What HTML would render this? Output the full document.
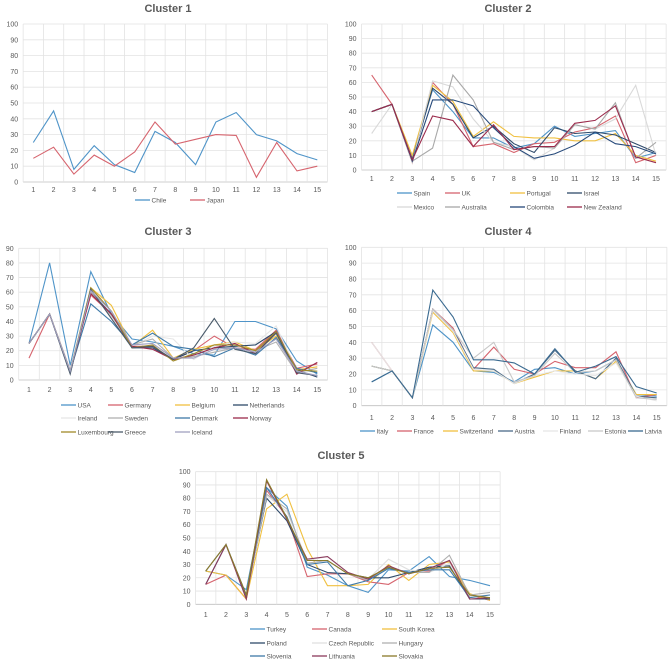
<!DOCTYPE html>
<html><head><meta charset="utf-8"><style>
html,body{margin:0;padding:0;background:#fff;}
svg{display:block;font-family:"Liberation Sans",sans-serif;}
</style></head><body>
<svg id="chart" width="669" height="659" viewBox="0 0 669 659" xmlns="http://www.w3.org/2000/svg"></svg>
<script>
const categories = [1,2,3,4,5,6,7,8,9,10,11,12,13,14,15];
// Cluster 1
const c1Names = ["Chile","Japan"];
const c1Chile = [25,45,8,23,11,6,32,25,11,38,44,30,26,18,14];
const c1Japan = [15,22,5,17,10,19,38,24,27,30,29.5,3,25,7,10];
// Cluster 2
const c2Names = ["Spain","UK","Portugal","Israel","Mexico","Australia","Colombia","New Zealand"];
const c2Spain = [40,45,8,55,40,22,22,15,18,30,23,25,27,8,12];
const c2UK = [65,45,5,60,45,16,18,12,18,19,26,29,37,5,10];
const c2Portugal = [40,45,10,58,47,23,33,23,22,22,20,20,25,10,6];
const c2Israel = [40,45,7,56,45,22,30,18,12,29,25,26,24,18,12];
const c2Mexico = [25,45,5,61,57,35,19,16,7,15,31,28,35,58,10];
const c2Australia = [40,45,6,15,65,48,19,14,16,15,31,28,46,8,19];
const c2Colombia = [40,45,6,48,48,44,29,16,8,11,17,26,18,16,11];
const c2NewZealand = [40,45,7,37,34,16,31,14,16,16,32,34,44,9,5];
// Cluster 3
const c3Names = ["USA","Germany","Belgium","Netherlands","Ireland","Sweden","Denmark","Norway","Luxembourg","Greece","Iceland"];
const c3USA = [25,80,10,74,45,28,26,23,18,17,40,40,35,13,4];
const c3Germany = [15,45,7,58,45,23,23,14,20,30,22,21,34,8,11];
const c3Belgium = [25,45,6,63,51,23,34,15,21,24,26,20,30,7,9];
const c3Netherlands = [25,45,5,60,45,22,22,14,20,22,23,24,33,7,2];
const c3Ireland = [25,45,7,62,47,23,30,28,14,23,26,25,37,6,3];
const c3Sweden = [25,45,6,60,44,24,28,15,16,19,22,20,26,5,8];
const c3Denmark = [25,45,6,52,40,24,32,23,21,16,22,17,29,8,5];
const c3Norway = [25,45,5,59,45,23,21,14,17,22,25,18,33,4,12];
const c3Luxembourg = [25,45,6,63,47,22,24,13,18,24,24,20,33,7,6];
const c3Greece = [25,45,4,62,42,22,23,14,22,42,21,18,32,5,3];
const c3Iceland = [25,45,6,61,47,24,25,15,15,21,22,19,28,6,3];
// Cluster 4
const c4Names = ["Italy","France","Switzerland","Austria","Finland","Estonia","Latvia"];
const c4Italy = [15,22,5,51,40,22,21,15,23,24,20,22,29,7,6];
const c4France = [40,22,5,61,49,23,37,23,20,28,24,24,34,5,7];
const c4Switzerland = [25,22,5,59,46,22,22,14,18,22,22,17,28,7,7];
const c4Austria = [25,22,5,61,48,24,23,14,20,35,22,17,30,6,5];
const c4Finland = [40,22,5,60,47,23,22,14,19,22,20,19,27,6,3];
const c4Estonia = [25,22,5,61,48,30,40,15,19,33,21,22,29,5,4];
const c4Latvia = [15,22,5,73,56,29,29,27,20,36,21,25,31,12,8];
// Cluster 5
const c5Names = ["Turkey","Canada","South Korea","Poland","Czech Republic","Hungary","Slovenia","Lithuania","Slovakia"];
const c5Turkey = [25,22,11,88,74,28,22,14,9,26,25,36,21,18,14];
const c5Canada = [15,22,4,86,66,21,23,23,17,15,24,25,33,7,3];
const c5SouthKorea = [25,22,4,72,83,42,14,14,15,30,18,30,32,8,3];
const c5Poland = [25,45,7,80,63,30,24,23,20,20,24,28,29,4,4];
const c5Czech = [15,45,6,82,70,33,36,24,19,34,26,24,31,6,7];
const c5Hungary = [25,45,6,83,72,31,33,23,18,28,24,24,37,7,9];
const c5Slovenia = [15,45,6,88,66,30,32,14,18,27,24,26,26,5,7];
const c5Lithuania = [15,45,4,93,64,34,36,24,19,29,23,27,33,4,5];
const c5Slovakia = [25,45,7,94,65,33,33,23,20,28,23,27,28,7,5];

const NS="http://www.w3.org/2000/svg";
const svg=document.getElementById('chart');
function mk(tag,attrs,parent,text){const e=document.createElementNS(NS,tag);for(const k in attrs)e.setAttribute(k,attrs[k]);if(text!==undefined)e.textContent=text;(parent||svg).appendChild(e);return e;}

const panels=[
 {key:'cluster-1',title:'Cluster 1',tx:168,ty:12,x1:33.3,x15:317.3,yTop:24,yBot:182,yMax:100,xl:192,
  names:c1Names,series:[c1Chile,c1Japan],colors:['#4f94c8','#d6646e'],
  leg:{cols:[135,190],rows:[200],len:15}},
 {key:'cluster-2',title:'Cluster 2',tx:508,ty:12,x1:371.7,x15:656,yTop:24,yBot:170,yMax:100,xl:181,
  names:c2Names,series:[c2Spain,c2UK,c2Portugal,c2Israel,c2Mexico,c2Australia,c2Colombia,c2NewZealand],
  colors:['#4f94c8','#d6646e','#f0c040','#2f4a6a','#d9d9d9','#a8a8a8','#26497a','#9b2b4c'],
  leg:{cols:[397,445,510,567],rows:[193,207],len:15}},
 {key:'cluster-3',title:'Cluster 3',tx:168,ty:235,x1:29,x15:317.3,yTop:248.3,yBot:380,yMax:90,xl:392,
  names:c3Names,series:[c3USA,c3Germany,c3Belgium,c3Netherlands,c3Ireland,c3Sweden,c3Denmark,c3Norway,c3Luxembourg,c3Greece,c3Iceland],
  colors:['#4f94c8','#d6646e','#f0c040','#2f4a6a','#e6e6e6','#b0b0b0','#3f7aa8','#9b2b4c','#a08a2a','#4a5a6a','#a0a0c0'],
  leg:{cols:[61,108,175,233],rows:[405,418,432],len:15}},
 {key:'cluster-4',title:'Cluster 4',tx:508,ty:235,x1:371.7,x15:656.7,yTop:247.3,yBot:405.7,yMax:100,xl:420,
  names:c4Names,series:[c4Italy,c4France,c4Switzerland,c4Austria,c4Finland,c4Estonia,c4Latvia],
  colors:['#4f94c8','#d6646e','#f0c040','#4a6a88','#e6e6e6','#c8c8c8','#3a6a90'],
  leg:{cols:[360,397,443,498,543,588,628],rows:[431],len:15}},
 {key:'cluster-5',title:'Cluster 5',tx:341,ty:459,x1:205.7,x15:490,yTop:471.7,yBot:604.3,yMax:100,xl:617,
  names:c5Names,series:[c5Turkey,c5Canada,c5SouthKorea,c5Poland,c5Czech,c5Hungary,c5Slovenia,c5Lithuania,c5Slovakia],
  colors:['#4f94c8','#d6646e','#f0c040','#2f4a6a','#e0e0e0','#b0b0b0','#3f7aa8','#8b3a5c','#8a7a2a'],
  leg:{cols:[250,312,382],rows:[629,643,656],len:15}}
];

panels.forEach(p=>{
  const g=mk('g',{});
  
  
  const step=(p.x15-p.x1)/14;
  const xs=i=>p.x1+i*step;
  const ys=v=>p.yBot-(v/p.yMax)*(p.yBot-p.yTop);
  const left=p.x1-step/2,right=p.x15+step/2;
  const t=mk('text',{x:p.tx,y:p.ty,'text-anchor':'middle','font-size':'11','font-weight':'bold',fill:'#595959'},g,p.title);
  
  
  for(let v=0;v<=p.yMax;v+=10){
    const y=ys(v);
    const l=mk('line',{x1:left,x2:right,y1:y,y2:y,stroke:v===0?'#bfbfbf':'#e3e3e3','stroke-width':0.8},g);
    
    
    const tl=mk('text',{x:left-5,y:y+2.5,'text-anchor':'end','font-size':'7',fill:'#595959'},g,String(v));
    
    
  }
  for(let i=0;i<=15;i++){
    const x=left+i*step;
    const l=mk('line',{x1:x,x2:x,y1:p.yTop,y2:p.yBot,stroke:'#e3e3e3','stroke-width':0.8},g);
    
    
  }
  categories.forEach((c,i)=>{
    const tl=mk('text',{x:xs(i),y:p.xl,'text-anchor':'middle','font-size':'7',fill:'#595959'},g,String(c));
    
    
  });
  p.series.forEach((s,k)=>{
    const pts=s.map((v,i)=>xs(i).toFixed(1)+','+ys(v).toFixed(1)).join(' ');
    const pl=mk('polyline',{points:pts,fill:'none',stroke:p.colors[k],'stroke-width':1.1},g);
    
    
  });
  p.names.forEach((n,k)=>{
    const nc=p.leg.cols.length;
    const x=p.leg.cols[k%nc],y=p.leg.rows[Math.floor(k/nc)];
    const lg=mk('g',{},g);
    
    
    mk('line',{x1:x,x2:x+p.leg.len,y1:y,y2:y,stroke:p.colors[k],'stroke-width':1.3},lg);
    mk('text',{x:x+p.leg.len+1.5,y:y+2.5,'font-size':'6.5',fill:'#595959'},lg,n);
  });
});
</script>
</body></html>
